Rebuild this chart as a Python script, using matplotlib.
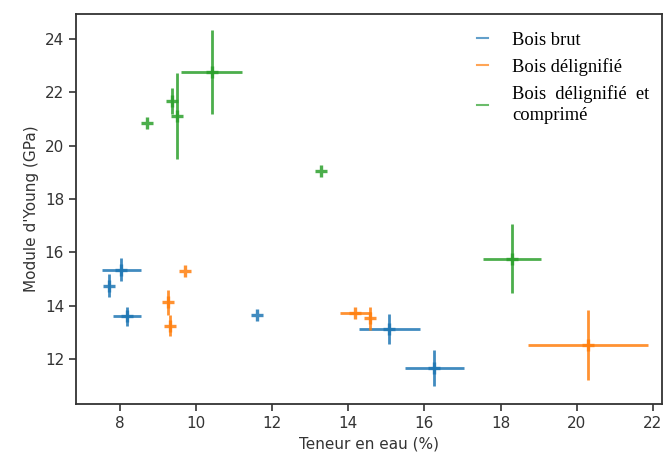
import matplotlib
matplotlib.use("Agg")
import matplotlib.pyplot as plt
from matplotlib.lines import Line2D

# Bois brut
brut_x = [8.04, 7.72, 8.19, 11.59, 15.08, 16.26]
brut_y = [15.34, 14.75, 13.60, 13.65, 13.12, 11.66]
brut_xerr = [0.51, 0.0, 0.37, 0.0, 0.81, 0.77]
brut_yerr = [0.43, 0.43, 0.35, 0.0, 0.55, 0.67]

# Bois délignifié
delig_x = [9.71, 9.27, 9.31, 14.18, 14.57, 20.30]
delig_y = [15.28, 14.12, 13.25, 13.74, 13.52, 12.52]
delig_xerr = [0.0, 0.0, 0.0, 0.41, 0.0, 1.57]
delig_yerr = [0.0, 0.46, 0.38, 0.0, 0.44, 1.30]

# Bois délignifié et comprimé
comp_x = [8.72, 9.36, 9.50, 10.41, 13.29, 18.30]
comp_y = [20.85, 21.68, 21.12, 22.76, 19.04, 15.76]
comp_xerr = [0.0, 0.0, 0.0, 0.81, 0.0, 0.77]
comp_yerr = [0.0, 0.49, 1.62, 1.57, 0.0, 1.30]

labels = ["Bois brut", "Bois délignifié", "Bois  délignifié  et\ncomprimé"]
colors = ["#1f77b4", "#ff7f0e", "#2ca02c"]

fig = plt.figure(figsize=(6.66, 4.59), dpi=100)
ax = fig.add_axes([0.114, 0.12, 0.88, 0.8495])

series = [
    (brut_x, brut_y, brut_xerr, brut_yerr),
    (delig_x, delig_y, delig_xerr, delig_yerr),
    (comp_x, comp_y, comp_xerr, comp_yerr),
]
for (x, y, xe, ye), lab, c in zip(series, labels, colors):
    ax.errorbar(x, y, xerr=xe, yerr=ye, fmt='+', color=c, ecolor=c,
                elinewidth=2.0, markersize=8, markeredgewidth=2.4,
                alpha=0.85)

ax.set_xlim(6.845, 22.24)
ax.set_ylim(10.31, 24.94)
ax.set_xticks([8, 10, 12, 14, 16, 18, 20, 22])
ax.set_yticks([12, 14, 16, 18, 20, 22, 24])
ax.tick_params(labelsize=11, length=5, width=1.2, colors='#333333')
for s in ax.spines.values():
    s.set_linewidth(1.3)
    s.set_color('#333333')
ax.set_xlabel("Teneur en eau (%)", fontsize=11, color='#333333')
ax.set_ylabel("Module d'Young (GPa)", fontsize=11, color='#333333')

handles = [Line2D([], [], color=c, lw=1.5, alpha=0.7) for c in colors]
leg = ax.legend(handles, labels, loc='upper left', frameon=False,
                handlelength=0.6, handletextpad=1.3, labelspacing=0.5,
                borderpad=0, borderaxespad=0,
                prop={'family': 'Liberation Serif', 'size': 13.3},
                bbox_to_anchor=(0.684, 0.955))
for t in leg.get_texts():
    t.set_linespacing(1.35)

fig.savefig("out.png", dpi=100)
